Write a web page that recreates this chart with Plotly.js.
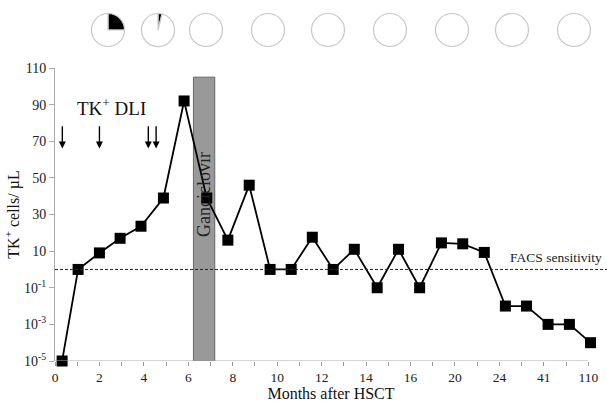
<!DOCTYPE html>
<html><head><meta charset="utf-8">
<script src="https://cdn.plot.ly/plotly-3.0.1.min.js"></script>
<style>html,body{margin:0;padding:0;background:#fff}#chart{width:607px;height:402px}</style>
</head><body><div id="chart"></div>
<script>
// ---- data ----
const xTickLabels = ['0','2','4','6','8','10','12','14','16','20','24','41','110'];
const monthPos = [0.32,1.04,2.0,2.93,3.87,4.88,5.81,6.83,7.78,8.74,9.68,10.63,11.58,12.52,13.47,14.5,15.46,16.41,17.39,18.35,19.32,20.27,21.22,22.19,23.15,24.1];
const tkCells  = [1e-5,1,8,17,23.6,39,92,39,16,46,1,1,17.6,1,11,0.1,11,0.1,14.5,14,8.5,0.01,0.01,0.001,0.001,1e-4];
const yTickValues = [1e-5,1e-3,1e-1,10,30,50,70,90,110];
const yTickLabels = ['10<sup>-5</sup>','10<sup>-3</sup>','10<sup>-1</sup>','10','30','50','70','90','110'];
const dliPos = [0.33, 2.0, 4.2, 4.55];
const ganciclovirRange = [6.23, 7.19];
const ganciclovirTop = 105;
const facsSensitivity = 1;
const tkFraction = [25, 4, 0, 0, 0, 0, 0, 0, 0];

// ---- scale: log (2 decades/tick) below 10, linear (20/tick) above ----
function yScale(v){ return v <= 10 ? (Math.log10(v) + 5) / 2 : 3 + (v - 10) / 20; }

const FONT = '"Liberation Serif","Times New Roman",serif';
const L = 55, R = 0, B = 41, W = 607, H = 402;
const plotTopPx = 68;
const paperH = H - B;          // margin t = 0
const plotW = W - L - R;

const xTickVals = [], xTickText = [];
for (let i = 0; i <= 24; i++) { xTickVals.push(i); xTickText.push(i % 2 === 0 ? xTickLabels[i/2] : ''); }

const traces = [{
  type: 'scatter', mode: 'lines+markers',
  x: monthPos, y: tkCells.map(yScale),
  line: {color: '#000', width: 1.8},
  marker: {symbol: 'square', size: 11, color: '#000'},
  cliponaxis: false, hoverinfo: 'skip', showlegend: false
}];

const pieCentersPx = [108, 158, 206, 268, 328, 390, 452, 512, 574];
const pieCy = 30, pieR = 16.5;
tkFraction.forEach((f, i) => {
  const cx = pieCentersPx[i];
  traces.push({
    type: 'pie', values: [f, 100 - f], sort: false, direction: 'counterclockwise', rotation: 0,
    marker: {colors: ['#000', '#fff'], line: {color: '#c8c8c8', width: 1.2}},
    textinfo: 'none', hoverinfo: 'skip', showlegend: false,
    domain: {x: [(cx - pieR - L) / plotW, (cx + pieR - L) / plotW],
             y: [(paperH - pieCy - pieR) / paperH, (paperH - pieCy + pieR) / paperH]}
  });
});

const annotations = [];
dliPos.forEach(p => annotations.push({
  x: p, y: yScale(66), ax: p, ay: yScale(79), xref: 'x', yref: 'y', axref: 'x', ayref: 'y',
  showarrow: true, arrowhead: 2, arrowsize: 1, arrowwidth: 1.4, arrowcolor: '#000', text: ''
}));
annotations.push({x: 2.55, y: yScale(88.5), xref: 'x', yref: 'y', showarrow: false,
  text: 'TK<sup>+</sup> DLI', font: {family: FONT, size: 19, color: '#111'}});
annotations.push({x: (ganciclovirRange[0] + ganciclovirRange[1]) / 2 + 0.02, y: yScale(41), xref: 'x', yref: 'y',
  showarrow: false, textangle: -90, text: 'Ganciclovir', font: {family: FONT, size: 18, color: '#222'}});
annotations.push({x: 1, y: yScale(facsSensitivity), xref: 'paper', yref: 'y', xanchor: 'right', yanchor: 'bottom',
  xshift: -3, yshift: 2, showarrow: false, text: 'FACS sensitivity', font: {family: FONT, size: 13.5, color: '#222'}});

const shapes = [
  {type: 'rect', xref: 'x', yref: 'y', x0: ganciclovirRange[0], x1: ganciclovirRange[1], y0: 0, y1: yScale(ganciclovirTop),
   fillcolor: '#999', line: {color: '#666', width: 1}, layer: 'below'},
  {type: 'line', xref: 'paper', yref: 'y', x0: 0, x1: 1, y0: yScale(facsSensitivity), y1: yScale(facsSensitivity),
   line: {color: '#222', width: 1, dash: '3px,2px'}},
  {type: 'line', xref: 'x', yref: 'y', x0: 0, x1: 24, y0: 0, y1: 0, line: {color: '#aaa', width: 1}}
];

const layout = {
  width: W, height: H,
  margin: {l: L, r: R, t: 0, b: B, pad: 0},
  paper_bgcolor: '#fff', plot_bgcolor: '#fff',
  font: {family: FONT, color: '#222'},
  xaxis: {range: [0, plotW / 22.22], tickvals: xTickVals, ticktext: xTickText, ticks: 'outside', ticklen: 4,
    tickcolor: '#999', showgrid: false, zeroline: false, showline: false,
    tickfont: {family: FONT, size: 13.5, color: '#222'},
    title: {text: 'Months after HSCT', font: {family: FONT, size: 16, color: '#111'}, standoff: 4}},
  yaxis: {domain: [0, (paperH - plotTopPx) / paperH], range: [0, 8],
    tickvals: yTickValues.map(yScale), ticktext: yTickLabels, ticks: 'outside', ticklen: 5, tickcolor: '#aaa',
    showline: true, linecolor: '#aaa', linewidth: 1, showgrid: false, zeroline: false,
    tickfont: {family: FONT, size: 14, color: '#222'},
    title: {text: 'TK<sup>+</sup> cells/ µL', font: {family: FONT, size: 16, color: '#111'}, standoff: 0}},
  shapes: shapes, annotations: annotations
};

Plotly.newPlot('chart', traces, layout, {displayModeBar: false, staticPlot: true});
</script></body></html>
